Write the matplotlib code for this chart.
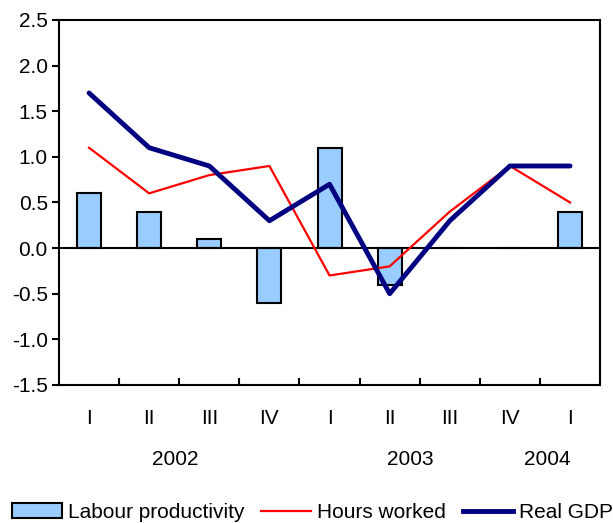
import matplotlib
matplotlib.use("Agg")
import matplotlib.pyplot as plt
import numpy as np
from matplotlib.patches import Patch
from matplotlib.lines import Line2D
import matplotlib.transforms as mtransforms

plt.rcParams['font.family'] = ['Liberation Sans', 'DejaVu Sans']

quarters = ["I", "II", "III", "IV", "I", "II", "III", "IV", "I"]
years = ["2002", "2003", "2004"]
year_pos = [1.43, 5.34, 7.62]
productivity = [0.6, 0.4, 0.1, -0.6, 1.1, -0.4, 0.0, 0.0, 0.4]
hours = [1.1, 0.6, 0.8, 0.9, -0.3, -0.2, 0.4, 0.9, 0.5]
gdp = [1.7, 1.1, 0.9, 0.3, 0.7, -0.5, 0.3, 0.9, 0.9]

FS = 15

fig = plt.figure(figsize=(6.13, 5.23), dpi=100)
ax = fig.add_axes([0.0962, 0.2639, 0.979 - 0.0962, 0.9618 - 0.2639])

x = np.arange(len(quarters))
ax.bar(x, productivity, width=0.4, color="#99CCFF", edgecolor="black", linewidth=1.5, zorder=2)
ax.axhline(0, color="black", linewidth=1.5, zorder=3)
ax.plot(x, hours, color="#FF0000", linewidth=1.6, zorder=4)
ax.plot(x, gdp, color="#000080", linewidth=3.5, zorder=5, solid_capstyle='round')

ax.set_xlim(-0.5, len(quarters) - 0.5)
ax.set_ylim(-1.5, 2.5)
yt = np.arange(-1.5, 2.51, 0.5)
ax.set_yticks(yt)
ax.set_yticklabels([f"{v:.1f}" for v in yt], fontsize=FS)
ax.tick_params(axis='y', direction='out', length=5, width=1.5, pad=3)

ax.set_xticks(x)
ax.set_xticklabels(quarters, fontsize=FS)
ax.tick_params(axis='x', which='major', length=0, pad=17)
ax.set_xticks(np.arange(0.5, len(quarters) - 0.5, 1), minor=True)
ax.tick_params(axis='x', which='minor', direction='in', length=5, width=1.5)

for s in ax.spines.values():
    s.set_linewidth(1.5)

trans = mtransforms.blended_transform_factory(ax.transData, ax.transAxes)
for yl, xp in zip(years, year_pos):
    ax.text(xp, -0.205, yl, transform=trans, ha='center', va='center', fontsize=FS)

handles = [
    Patch(facecolor="#99CCFF", edgecolor="black", linewidth=1.5),
    Line2D([0], [0], color="#FF0000", linewidth=1.6),
    Line2D([0], [0], color="#000080", linewidth=3.5),
]
labels = ["Labour productivity", "Hours worked", "Real GDP"]
fig.legend(handles, labels, loc='center left', bbox_to_anchor=(0.0196, 0.02), ncol=3,
           frameon=False, fontsize=FS, handlelength=2.4, handleheight=0.75, handletextpad=0.29,
           columnspacing=0.8, borderaxespad=0, borderpad=0)

fig.savefig("out.png", dpi=100)
